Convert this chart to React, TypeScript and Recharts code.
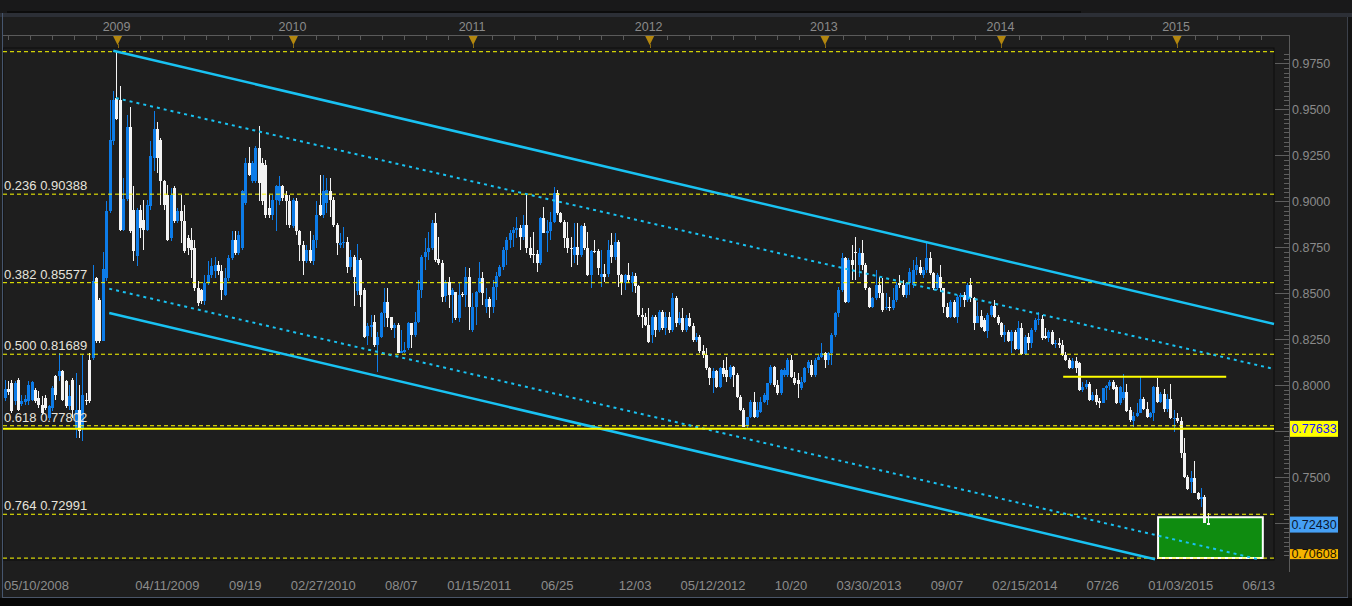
import React from 'react';
import { ComposedChart, Bar, XAxis, YAxis, ReferenceLine, ReferenceArea } from 'recharts';

// Weekly EUR/GBP-style candles, week index 0 = 05/10/2008
const opens = [
.7931,.7982,.8012,.7913,.8031,.7898,.7909,.7916,.7922,.7976,
.7931,.7895,.7931,.7822,.7877,.8049,.8049,.8076,.8022,.7886,
.8031,.7768,.7868,.7768,.7922,.8139,.8148,.8583,.8465,.8243,
.8583,.8945,.9326,.9562,.9552,.8846,.9012,.9404,
.8954,.8701,.8954,.8900,.8846,.8973,.9235,.9395,.9335,.9108,
.9036,.8800,.9072,.8891,.8945,.8891,.8800,.8791,.8746,.8529,
.8520,.8456,.8556,.8601,.8619,.8656,.8619,.8493,.8583,.8692,
.8791,.8719,.8746,.8991,.9208,.9108,.9108,.9290,.9208,.9199,
.8963,.8927,.9009,.9000,.9081,.9036,.9000,.8864,.9000,.8837,
.8764,.8674,.8737,.8674,.8791,.8982,.8927,.8989,
.9058,.9007,.8871,.8763,.8772,.8781,.8645,.8699,.8514,.8681,
.8518,.8268,.8319,.8346,.8219,.8264,.8391,.8455,.8369,.8310,
.8328,.8178,.8183,.8201,.8337,.8273,.8346,.8518,.8699,.8727,
.8745,.8881,.8686,.8663,.8487,.8560,.8491,.8505,.8364,.8495,
.8491,.8591,.8301,.8427,.8509,.8581,.8427,.8467,.8427,.8536,
.8596,.8641,.8736,.8790,.8826,.8844,.8853,.8808,.8871,.8745,
.8712,.8712,.8663,.8908,.8830,.8839,.8890,.9043,.8935,.8890,
.8799,.8748,.8708,.8750,.8708,.8866,.8745,.8600,.8730,.8730,
.8591,.8603,.8603,.8763,.8699,.8781,.8600,.8554,.8600,.8554,
.8594,.8540,.8382,.8373,.8328,
.8273,.8373,.8300,.8400,.8310,.8373,.8300,.8473,.8337,.8364,
.8300,.8364,.8322,.8246,.8264,.8188,.8165,.8092,.8038,.8080,
.7993,.8092,.8083,.8043,.8101,.8056,.7935,.7866,.7784,.7830,
.7911,.7830,.7857,.7911,.7920,.8011,.8101,.8002,.7957,.8056,
.8056,.8138,.8038,.8029,.7984,.8020,.8092,.8110,.8056,.8138,
.8156,.8174,.8138,.8174,.8273,.8391,.8518,.8690,.8455,.8681,
.8726,.8654,.8717,.8654,.8527,.8428,.8473,.8545,.8500,.8418,
.8428,.8418,.8464,.8554,.8545,.8491,.8554,.8545,.8627,.8645,
.8600,.8627,.8690,.8609,.8527,.8591,.8527,.8428,.8373,.8455,
.8373,.8482,.8491,.8464,
.8545,.8473,.8340,.8377,.8355,.8297,.8382,.8431,.8369,.8337,
.8273,.8291,.8243,.8291,.8197,.8313,.8170,.8264,.8228,.8301,
.8355,.8358,.8268,.8255,.8291,.8224,.8228,.8219,.8165,.8137,
.8092,.8132,.8119,.7974,.7993,.8007,.7920,.7947,.7916,.7906,
.7984,.7996,.8020,.7993,.7902,.7929,.7965,.7866,.7808,.7833,
.7851,.7924,.7871,.7826,.7851,.7993,.7911,.7953,.7869,.7924,
.7821,.7824,.7808,.7634,.7500,.7476,.7494,.7416,.7380,.7395,
.7253];

const highs = [
.8031,.8022,.8031,.8022,.8040,.7949,.7949,.8022,.8022,.7985,
.7967,.7940,.7949,.7895,.7994,.8058,.8175,.8085,.8031,.8004,
.8040,.8067,.8004,.8167,.7958,.8175,.8655,.8587,.8474,.8724,
.9000,.9552,.9598,.9813,.9625,.9126,.9471,.9511,
.9081,.8963,.8982,.9009,.9009,.9326,.9489,.9431,.9344,.9117,
.9090,.9072,.9081,.8963,.9036,.8982,.8818,.8855,.8791,.8565,
.8525,.8601,.8674,.8692,.8695,.8674,.8656,.8637,.8710,.8837,
.8837,.8837,.9063,.9235,.9293,.9217,.9299,.9407,.9235,.9226,
.9036,.9036,.9090,.9136,.9090,.9054,.9036,.9018,.9018,.8846,
.8782,.8764,.8837,.8818,.9000,.9145,.9145,.9125,
.9125,.9025,.8880,.8826,.8862,.8808,.8736,.8708,.8768,.8690,
.8527,.8337,.8382,.8382,.8292,.8400,.8527,.8527,.8373,.8337,
.8337,.8301,.8237,.8346,.8340,.8400,.8572,.8708,.8799,.8835,
.8899,.8935,.8808,.8681,.8572,.8591,.8527,.8509,.8554,.8509,
.8645,.8636,.8500,.8515,.8672,.8618,.8527,.8482,.8572,.8618,
.8654,.8754,.8808,.8844,.8862,.8917,.8871,.8926,.9034,.8808,
.8835,.8736,.8917,.8971,.8899,.8944,.9080,.9061,.8944,.8899,
.8890,.8808,.8881,.8881,.8871,.8881,.8835,.8736,.8790,.8739,
.8736,.8660,.8790,.8826,.8826,.8790,.8605,.8605,.8663,.8618,
.8609,.8545,.8418,.8391,.8418,
.8380,.8382,.8409,.8409,.8400,.8400,.8500,.8485,.8400,.8418,
.8382,.8391,.8337,.8282,.8273,.8219,.8201,.8101,.8092,.8083,
.8101,.8138,.8156,.8110,.8105,.8065,.7947,.7875,.7830,.7920,
.7966,.7911,.7938,.7957,.8015,.8110,.8105,.8029,.8090,.8092,
.8147,.8165,.8074,.8065,.8047,.8101,.8138,.8138,.8147,.8165,
.8228,.8183,.8183,.8282,.8400,.8536,.8717,.8699,.8690,.8763,
.8808,.8744,.8790,.8663,.8536,.8482,.8627,.8591,.8581,.8500,
.8482,.8527,.8563,.8600,.8572,.8563,.8636,.8681,.8699,.8681,
.8645,.8781,.8726,.8618,.8609,.8654,.8530,.8446,.8464,.8464,
.8491,.8500,.8509,.8554,
.8581,.8482,.8455,.8409,.8364,.8391,.8436,.8464,.8382,.8346,
.8328,.8301,.8301,.8301,.8349,.8337,.8273,.8282,.8310,.8364,
.8400,.8382,.8310,.8301,.8301,.8246,.8255,.8246,.8183,.8147,
.8147,.8156,.8125,.8020,.8029,.8020,.7965,.7978,.7929,.7984,
.8002,.8029,.8029,.8002,.7996,.8061,.8007,.7884,.7857,.7902,
.8043,.7938,.7911,.7857,.7996,.8038,.7965,.7978,.7953,.8007,
.7866,.7851,.7826,.7712,.7513,.7536,.7590,.7422,.7440,.7404,
.7304];

const lows = [
.7913,.7949,.7849,.7895,.7858,.7886,.7895,.7895,.7913,.7904,
.7877,.7840,.7868,.7813,.7859,.7922,.8022,.7913,.7877,.7868,
.7822,.7714,.7714,.7699,.7895,.7904,.8139,.8230,.8230,.8239,
.8565,.8936,.9308,.9440,.8841,.8837,.8999,.8828,
.8674,.8646,.8800,.8737,.8837,.8954,.9163,.9154,.8982,.8954,
.8782,.8782,.8882,.8882,.8773,.8719,.8710,.8583,.8511,.8429,
.8442,.8438,.8547,.8583,.8583,.8601,.8465,.8483,.8565,.8683,
.8710,.8710,.8737,.8982,.9136,.9099,.9099,.9000,.8982,.8909,
.8909,.8900,.8837,.8982,.9000,.8873,.8855,.8855,.8818,.8674,
.8601,.8665,.8665,.8656,.8746,.8918,.8909,.8935,
.8917,.8862,.8708,.8745,.8745,.8609,.8627,.8433,.8491,.8427,
.8255,.8219,.8264,.8210,.8074,.8255,.8319,.8319,.8301,.8255,
.8174,.8174,.8174,.8192,.8201,.8264,.8337,.8473,.8627,.8681,
.8736,.8672,.8654,.8455,.8455,.8418,.8337,.8355,.8346,.8482,
.8427,.8301,.8292,.8328,.8500,.8436,.8391,.8364,.8391,.8464,
.8591,.8627,.8654,.8745,.8754,.8799,.8736,.8790,.8717,.8690,
.8663,.8618,.8654,.8826,.8727,.8790,.8881,.8926,.8881,.8745,
.8717,.8645,.8663,.8654,.8699,.8736,.8595,.8527,.8717,.8600,
.8536,.8560,.8591,.8663,.8681,.8536,.8491,.8518,.8554,.8509,
.8500,.8373,.8310,.8322,.8230,
.8228,.8264,.8291,.8300,.8273,.8282,.8291,.8319,.8328,.8291,
.8291,.8319,.8237,.8237,.8174,.8147,.8083,.8002,.7957,.7984,
.7984,.8047,.8020,.8033,.7993,.7930,.7862,.7772,.7766,.7821,
.7821,.7821,.7848,.7902,.7893,.8002,.7993,.7947,.7947,.8047,
.8047,.8040,.8002,.7930,.7975,.8011,.8065,.8047,.8047,.8135,
.8147,.8092,.8110,.8110,.8264,.8373,.8509,.8446,.8446,.8572,
.8572,.8591,.8627,.8518,.8418,.8418,.8464,.8473,.8400,.8409,
.8406,.8409,.8455,.8527,.8482,.8473,.8491,.8527,.8600,.8600,
.8581,.8609,.8600,.8518,.8518,.8509,.8391,.8364,.8364,.8364,
.8337,.8428,.8428,.8455,
.8455,.8301,.8337,.8310,.8291,.8255,.8373,.8364,.8328,.8264,
.8237,.8237,.8174,.8192,.8192,.8165,.8165,.8192,.8201,.8291,
.8328,.8246,.8250,.8237,.8220,.8201,.8201,.8160,.8134,.8087,
.8087,.8065,.7970,.7965,.7978,.7915,.7915,.7893,.7875,.7902,
.7920,.7974,.7974,.7898,.7893,.7920,.7857,.7802,.7775,.7830,
.7848,.7866,.7821,.7821,.7808,.7902,.7902,.7857,.7857,.7815,
.7748,.7793,.7603,.7494,.7431,.7413,.7413,.7377,.7340,.7250,
.7239];

const closes = [
.7982,.7963,.7858,.8012,.7868,.7913,.7927,.8000,.8018,.7913,
.7895,.7849,.7877,.7886,.7985,.7949,.8076,.7922,.7886,.7940,
.7868,.7868,.7750,.7949,.7913,.7913,.8565,.8239,.8239,.8632,
.8945,.9335,.9552,.9450,.8846,.9012,.9404,.8837,
.8728,.8954,.8855,.8846,.8982,.9244,.9395,.9235,.9108,.8982,
.8791,.9036,.8891,.8945,.8891,.8728,.8746,.8737,.8529,.8447,
.8456,.8556,.8601,.8646,.8656,.8619,.8520,.8583,.8692,.8791,
.8719,.8818,.9054,.9208,.9145,.9208,.9290,.9099,.9000,.8927,
.8927,.9009,.9081,.9081,.9018,.9000,.8873,.9009,.8837,.8764,
.8674,.8737,.8674,.8791,.8927,.8927,.9054,.9062,
.9007,.8871,.8772,.8775,.8781,.8645,.8699,.8591,.8681,.8491,
.8264,.8322,.8328,.8219,.8264,.8391,.8455,.8364,.8310,.8328,
.8178,.8188,.8192,.8337,.8273,.8346,.8518,.8699,.8727,.8745,
.8881,.8681,.8663,.8482,.8560,.8491,.8518,.8364,.8491,.8491,
.8591,.8427,.8427,.8509,.8581,.8500,.8467,.8427,.8536,.8596,
.8641,.8736,.8790,.8826,.8844,.8853,.8808,.8871,.8745,.8708,
.8710,.8663,.8908,.8830,.8839,.8890,.9043,.8935,.8890,.8799,
.8748,.8745,.8750,.8708,.8866,.8745,.8600,.8730,.8727,.8636,
.8603,.8590,.8736,.8699,.8781,.8600,.8554,.8600,.8572,.8594,
.8540,.8382,.8373,.8328,.8237,
.8373,.8300,.8400,.8310,.8373,.8300,.8473,.8337,.8364,.8300,
.8364,.8322,.8246,.8264,.8188,.8165,.8092,.8038,.8080,.7993,
.8092,.8062,.8043,.8101,.8056,.7935,.7866,.7775,.7830,.7911,
.7830,.7866,.7911,.7947,.8011,.8101,.8002,.7957,.8083,.8083,
.8138,.8047,.8011,.8007,.8020,.8092,.8128,.8056,.8138,.8156,
.8174,.8138,.8174,.8273,.8391,.8518,.8690,.8455,.8681,.8654,
.8717,.8717,.8654,.8527,.8428,.8473,.8545,.8500,.8409,.8428,
.8418,.8464,.8545,.8545,.8491,.8554,.8618,.8627,.8654,.8609,
.8627,.8690,.8609,.8527,.8600,.8527,.8428,.8373,.8455,.8373,
.8482,.8491,.8464,.8545,
.8473,.8340,.8377,.8319,.8297,.8382,.8431,.8369,.8337,.8273,
.8291,.8243,.8291,.8197,.8310,.8170,.8264,.8228,.8301,.8355,
.8358,.8255,.8255,.8291,.8224,.8228,.8219,.8165,.8137,.8092,
.8132,.8092,.7974,.7993,.8007,.7920,.7947,.7911,.7906,.7984,
.7996,.8020,.7978,.7902,.7993,.7965,.7862,.7811,.7833,.7851,
.7924,.7871,.7826,.7851,.7993,.7911,.7953,.7869,.7924,.7821,
.7824,.7808,.7634,.7500,.7435,.7494,.7416,.7380,.7395,.7253,
.7243];

const dateTickWeeks = [0, 48, 71, 94, 117, 140, 163, 186, 209, 232, 255, 278, 301, 324, 347, 370];
const dateTickLabels = ['05/10/2008', '04/11/2009', '09/19', '02/27/2010', '08/07', '01/15/2011', '06/25', '12/03',
  '05/12/2012', '10/20', '03/30/2013', '09/07', '02/15/2014', '07/26', '01/03/2015', '06/13'];
const yearTickWeeks = [33.3, 85.2, 138.2, 190.3, 242.0, 294.1, 345.9];
const yearLabels = ['2009', '2010', '2011', '2012', '2013', '2014', '2015'];

const fibLevels = [0.9813, 0.90388, 0.85577, 0.81689, 0.77802, 0.72991, 0.70608];
const fibLabels = ['', '0.236 0.90388', '0.382 0.85577', '0.500 0.81689', '0.618 0.77802', '0.764 0.72991', ''];
const priceLabelTicks = [0.975, 0.95, 0.925, 0.9, 0.875, 0.85, 0.825, 0.8, 0.75];

// trend channel (week index, price)
const channelSolid = [
  [{ x: 32.03, y: 0.98185 }, { x: 374.5, y: 0.83332 }],
  [{ x: 30.85, y: 0.8393 }, { x: 339.4, y: 0.7055 }],
];
const channelDotted = [
  [{ x: 32.83, y: 0.95614 }, { x: 374.5, y: 0.80886 }],
  [{ x: 30.85, y: 0.8525 }, { x: 369.8, y: 0.7055 }],
];
const resistance = [{ x: 312.3, y: 0.80467 }, { x: 360.4, y: 0.80467 }];
const supportLevel = 0.77633;
const lastPrice = 0.7243;
const targetZone = { x1: 340.3, x2: 371.2, y1: 0.70608, y2: 0.72826 };

const X_DOMAIN: [number, number] = [-0.5, 374.5];
const Y_DOMAIN: [number, number] = [0.70505, 0.98332];

const rows = closes.map((c, i) => ({ i, o: opens[i], h: highs[i], l: lows[i], c, range: [lows[i], highs[i]] }));

const minorPriceTicks: number[] = [];
for (let k = 283; k <= 392; k++) minorPriceTicks.push(Math.round(k * 25) / 10000);

const topTicks: number[] = [];
for (let k = -5; k < 60; k++) {
  const v = +(33.3 + k * 6.49).toFixed(2);
  if (v >= -0.4 && v <= 374.4) topTicks.push(v);
}
const topAllTicks = topTicks.filter(v => !yearTickWeeks.some(y => Math.abs(y - v) < 2)).concat(yearTickWeeks);

const FONT = '"Liberation Sans", Arial, sans-serif';
const UP = '#0d7ce8';
const DOWN = '#f4f4f4';
const CYAN = '#19c2f2';
const YELLOW = '#ffff00';

function Candle(props: any) {
  const { x, y, width, height } = props;
  const d = props.payload || props;
  const { o, h, l, c } = d;
  if (x == null || y == null || !isFinite(height)) return null;
  const span = h - l || 1e-9;
  const yOf = (p: number) => y + ((h - p) / span) * height;
  const up = c >= o;
  const col = up ? UP : DOWN;
  const cx = Math.round(x + width / 2);
  let t = yOf(Math.min(h, Math.max(o, c)));
  let b = yOf(Math.max(l, Math.min(o, c)));
  if (b - t < 1) b = t + 1;
  return (
    <g shapeRendering="crispEdges">
      <line x1={cx + 0.5} x2={cx + 0.5} y1={y} y2={y + Math.max(height, 1)} stroke={col} strokeWidth={1} />
      <rect x={cx - 1} y={t} width={3} height={b - t} fill={col} />
    </g>
  );
}

function PriceTick(props: any) {
  const { y, payload } = props;
  const v = payload.value;
  const major = Math.abs(v * 40 - Math.round(v * 40)) < 1e-6;
  const yy = Math.round(y) + 0.5;
  const show = priceLabelTicks.some(p => Math.abs(p - v) < 1e-6);
  return (
    <g>
      <line x1={major ? 1275 : 1284} x2={1289} y1={yy} y2={yy} stroke="#5e5e5e" strokeWidth={1} />
      {show && (
        <text x={1292} y={y + 4.5} fill="#8a8a8a" fontSize={12.5} fontFamily={FONT}>{v.toFixed(4)}</text>
      )}
    </g>
  );
}

function DateTick(props: any) {
  const { x, payload } = props;
  const idx = dateTickWeeks.indexOf(payload.value);
  if (idx < 0) return null;
  const first = idx === 0;
  return (
    <text x={first ? 4 : x} y={590} textAnchor={first ? 'start' : 'middle'} fill="#8c8c8c" fontSize={13} fontFamily={FONT}>
      {dateTickLabels[idx]}
    </text>
  );
}

function YearTick(props: any) {
  const { x, payload } = props;
  const idx = yearTickWeeks.indexOf(payload.value);
  const xx = Math.round(x) + 0.5;
  if (idx < 0) {
    return <line x1={xx} x2={xx} y1={35} y2={40} stroke="#5a5a5a" strokeWidth={1} />;
  }
  return (
    <g>
      <text x={x - 1} y={30.5} textAnchor="middle" fill="#8a8a8a" fontSize={12.5} fontFamily={FONT}>{yearLabels[idx]}</text>
      <polygon points={`${x - 4.5},36 ${x + 4.5},36 ${x},45`} fill="#b3870f" />
      <line x1={xx} x2={xx} y1={44} y2={48} stroke="#8a6a10" strokeWidth={1} />
    </g>
  );
}

function FibLabel(props: any) {
  const { viewBox, text } = props;
  if (!text || !viewBox) return null;
  return (
    <text x={4} y={viewBox.y - 4} fill="#e6e3dc" fontSize={13} fontFamily={FONT}>{text}</text>
  );
}

function Tag(props: any) {
  const { viewBox, text, bg, fg, h = 16, clipBottom } = props;
  if (!viewBox) return null;
  const cy = viewBox.y;
  const top = clipBottom ? cy - 9 : cy - h / 2;
  const hh = clipBottom ? 10 : h;
  return (
    <g>
      <rect x={1290} y={top} width={48} height={hh} fill={bg} />
      <text x={1314} y={clipBottom ? cy : cy + 4.5} textAnchor="middle" fill={fg} fontSize={12.5} fontFamily={FONT}>{text}</text>
    </g>
  );
}

export default function App() {
  return (
    <div style={{ position: 'absolute', left: 0, top: 0, width: 1352, height: 606, background: '#1e1e1e', overflow: 'hidden' }}>
      <svg width={1352} height={606} style={{ position: 'absolute', left: 0, top: 0 }}>
        <rect x={0} y={0} width={1352} height={606} fill="#1e1e1e" />
        <rect x={0} y={0} width={1352} height={13} fill="#19191a" />
        <line x1={7} x2={1081} y1={12} y2={12} stroke="#0c0c0c" strokeWidth={2} />
        <rect x={0} y={13} width={1352} height={4} fill="#2c2f36" />
        <rect x={3} y={48} width={1271} height={512} fill="#1e1e1e" stroke="#0d0d0d" strokeWidth={1} />
        <line x1={3} x2={1289} y1={35.5} y2={35.5} stroke="#5a5a5a" strokeWidth={1} />
        <line x1={1289.5} x2={1289.5} y1={35} y2={572} stroke="#5a5a5a" strokeWidth={1} />
        <line x1={2.5} x2={2.5} y1={13} y2={598} stroke="#46566e" strokeWidth={1} />
        <line x1={1347.5} x2={1347.5} y1={17} y2={598} stroke="#3c414b" strokeWidth={1} />
        <rect x={1348} y={17} width={4} height={589} fill="#141414" />
        <line x1={2} x2={1348} y1={597.5} y2={597.5} stroke="#4a5568" strokeWidth={1} />
        <rect x={0} y={598} width={1352} height={8} fill="#070707" />
      </svg>
      <div style={{ position: 'absolute', left: 0, top: 0 }}>
        <ComposedChart width={1352} height={606} data={rows} margin={{ top: 35, right: 0, bottom: 0, left: 3 }}>
          <XAxis dataKey="i" type="number" domain={X_DOMAIN} allowDataOverflow ticks={dateTickWeeks} interval={0}
            height={46} axisLine={false} tickLine={false} tickSize={0} tick={<DateTick />} />
          <XAxis xAxisId="top" dataKey="i" type="number" orientation="top" domain={X_DOMAIN} allowDataOverflow
            ticks={topAllTicks} interval={0} height={13} axisLine={false} tickLine={false} tickSize={0} tick={<YearTick />} />
          <YAxis orientation="right" type="number" domain={Y_DOMAIN} allowDataOverflow ticks={minorPriceTicks} interval={0}
            width={78} axisLine={false} tickLine={false} tickSize={0} tick={<PriceTick />} />

          <ReferenceArea x1={targetZone.x1} x2={targetZone.x2} y1={targetZone.y1} y2={targetZone.y2}
            fill="#0f8c10" fillOpacity={1} stroke="#ffffff" strokeWidth={2} ifOverflow="visible" />

          {fibLevels.map((lv, k) => (
            <ReferenceLine key={'fib' + k} y={lv} stroke={YELLOW} strokeWidth={1} strokeDasharray="4 3"
              label={<FibLabel text={fibLabels[k]} />} ifOverflow="visible" />
          ))}

          <Bar dataKey="range" barSize={3} isAnimationActive={false} shape={(p: any) => <Candle {...p} />} />

          {channelSolid.map((seg, k) => (
            <ReferenceLine key={'cs' + k} segment={seg} stroke={CYAN} strokeWidth={2.5} ifOverflow="visible" />
          ))}
          {channelDotted.map((seg, k) => (
            <ReferenceLine key={'cd' + k} segment={seg} stroke={CYAN} strokeWidth={2} strokeDasharray="3 4" ifOverflow="visible" />
          ))}
          <ReferenceLine segment={resistance} stroke={YELLOW} strokeWidth={2} ifOverflow="visible" />
          <ReferenceLine y={supportLevel} stroke={YELLOW} strokeWidth={2}
            label={<Tag text="0.77633" bg="#ffff00" fg="#1414ff" />} />
          <ReferenceLine y={lastPrice} stroke="none" strokeWidth={0}
            label={<Tag text="0.72430" bg="#46a0f5" fg="#0b1730" />} />
          <ReferenceLine y={0.70608} stroke="none" strokeWidth={0}
            label={<Tag text="0.70608" bg="#f6b400" fg="#1a1200" clipBottom />} />
        </ComposedChart>
      </div>
    </div>
  );
}
